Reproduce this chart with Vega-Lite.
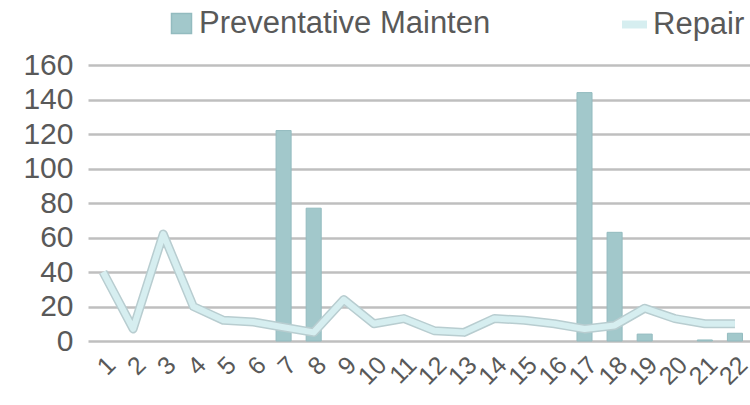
{
  "$schema": "https://vega.github.io/schema/vega-lite/v6.json",
  "width": 662,
  "height": 276,
  "autosize": "none",
  "padding": {"left": 88, "top": 65, "right": 0, "bottom": 64},
  "background": "white",
  "config": {
    "view": {"stroke": null},
    "font": "Liberation Sans",
    "axis": {"labelOverlap": false},
    "axisY": {
      "title": null,
      "values": [0, 20, 40, 60, 80, 100, 120, 140, 160],
      "labelOverlap": false,
      "labelBound": false,
      "grid": true,
      "gridColor": "#bfbfbf",
      "gridWidth": 2.5,
      "domain": false,
      "ticks": false,
      "labelFontSize": 30,
      "labelColor": "#595959",
      "labelPadding": 15
    }
  },
  "data": {"values": [
    {"cat": 1, "pm": null, "repair": 40},
    {"cat": 2, "pm": null, "repair": 7},
    {"cat": 3, "pm": null, "repair": 62},
    {"cat": 4, "pm": null, "repair": 20},
    {"cat": 5, "pm": null, "repair": 12},
    {"cat": 6, "pm": null, "repair": 11},
    {"cat": 7, "pm": 122, "repair": 8},
    {"cat": 8, "pm": 77, "repair": 5},
    {"cat": 9, "pm": null, "repair": 24},
    {"cat": 10, "pm": null, "repair": 10},
    {"cat": 11, "pm": null, "repair": 13},
    {"cat": 12, "pm": null, "repair": 6},
    {"cat": 13, "pm": null, "repair": 5},
    {"cat": 14, "pm": null, "repair": 13},
    {"cat": 15, "pm": null, "repair": 12},
    {"cat": 16, "pm": null, "repair": 10},
    {"cat": 17, "pm": 144, "repair": 7},
    {"cat": 18, "pm": 63, "repair": 9},
    {"cat": 19, "pm": 4, "repair": 19},
    {"cat": 20, "pm": null, "repair": 13},
    {"cat": 21, "pm": 0.6, "repair": 10},
    {"cat": 22, "pm": 4.5, "repair": 10}
  ]},
  "encoding": {
    "x": {
      "field": "cat",
      "type": "ordinal",
      "scale": {"paddingInner": 0.5, "paddingOuter": 0.25},
      "axis": {
        "title": null,
        "labelAngle": -45,
        "labelFontSize": 25,
        "labelColor": "#595959",
        "labelPadding": 11,
        "labelDx": -16,
        "labelOverlap": false,
        "labelBound": false,
        "ticks": false,
        "domain": false,
        "grid": false
      }
    }
  },
  "layer": [
    {
      "mark": {"type": "bar", "stroke": "#93bbbf", "strokeWidth": 1},
      "encoding": {
        "y": {
          "field": "pm",
          "type": "quantitative",
          "scale": {"domain": [0, 160]},
          "axis": {"title": null, "values": [0, 20, 40, 60, 80, 100, 120, 140, 160], "labelOverlap": false}
        },
        "fill": {
          "datum": "Preventative Mainten",
          "scale": {"domain": ["Preventative Mainten"], "range": ["#a2c8cb"]},
          "legend": {
            "title": null,
            "orient": "none",
            "legendX": 78,
            "legendY": -57,
            "labelFontSize": 31,
            "labelColor": "#595959",
            "labelLimit": 500,
            "labelOffset": 2,
            "symbolType": "square",
            "symbolSize": 400,
            "symbolStrokeColor": "#93bbbf",
            "symbolStrokeWidth": 1.5
          }
        }
      }
    },
    {
      "mark": {"type": "line", "stroke": "#b8cdd0", "strokeWidth": 9, "strokeJoin": "round"},
      "encoding": {
        "y": {"field": "repair", "type": "quantitative", "axis": {"title": null, "values": [0, 20, 40, 60, 80, 100, 120, 140, 160], "labelOverlap": false}}
      }
    },
    {
      "mark": {"type": "line", "strokeWidth": 6, "strokeJoin": "round"},
      "encoding": {
        "y": {"field": "repair", "type": "quantitative", "axis": {"title": null, "values": [0, 20, 40, 60, 80, 100, 120, 140, 160], "labelOverlap": false}},
        "stroke": {
          "datum": "Repair",
          "scale": {"domain": ["Repair"], "range": ["#d6eef0"]},
          "legend": {
            "title": null,
            "orient": "none",
            "legendX": 530,
            "legendY": -57,
            "labelFontSize": 31,
            "labelColor": "#595959",
            "labelLimit": 300,
            "labelOffset": 2,
            "symbolType": "stroke",
            "symbolSize": 625,
            "symbolStrokeWidth": 8
          }
        }
      }
    }
  ]
}
